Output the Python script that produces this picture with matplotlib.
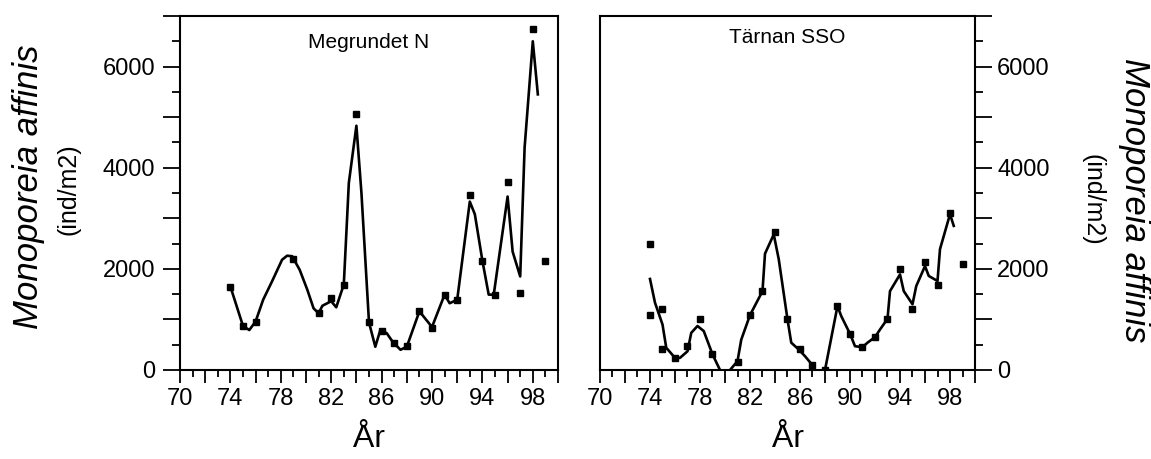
import matplotlib
matplotlib.use("Agg")
import matplotlib.pyplot as plt
from matplotlib.ticker import MultipleLocator, FuncFormatter

plt.rcParams["font.family"] = ["Liberation Sans", "DejaVu Sans"]

# Megrundet N: yearly samples and smoothed curve
left_years = [74, 75, 76, 79, 81, 82, 83, 84, 85, 86, 87, 88, 89, 90, 91, 92, 93, 94, 95, 96, 97, 98, 99]
left_vals = [1650, 870, 940, 2200, 1120, 1420, 1690, 5060, 940, 780, 540, 470, 1160, 840, 1490, 1390,
             3470, 2160, 1490, 3720, 1530, 6750, 2150]
left_line_x = [74, 74.5, 75, 75.5, 76, 76.6, 77.3, 78.1, 78.5, 78.9, 79.5, 80.1, 80.6, 81, 81.3, 82, 82.4,
               83, 83.4, 84, 84.4, 85, 85.5, 85.9, 86.4, 86.9, 87.5, 88, 89, 90, 91, 91.4, 92, 93, 93.4,
               94, 94.5, 94.9, 96, 96.4, 97, 97.35, 98, 98.4]
left_line_y = [1650, 1260, 870, 790, 960, 1390, 1750, 2180, 2260, 2250, 1980, 1590, 1220, 1120, 1270, 1360,
               1240, 1690, 3700, 4830, 3500, 940, 460, 790, 730, 550, 400, 460, 1160, 850, 1490, 1320, 1390,
               3330, 3080, 2160, 1490, 1490, 3430, 2340, 1850, 4400, 6500, 5450]

# Tärnan SSO
right_years = [74, 74, 75, 75, 76, 77, 78, 79, 81, 82, 83, 84, 85, 86, 87, 88, 89, 90, 91, 92, 93, 94, 95,
               96, 97, 98, 99]
right_vals = [2490, 1085, 1200, 425, 228, 480, 1010, 313, 162, 1085, 1560, 2737, 1010, 425, 95, 0, 1265, 716,
              452, 650, 1013, 2000, 1200, 2140, 1690, 3100, 2090]
right_line_x = [74, 74.4, 75, 75.3, 76, 76.4, 77, 77.3, 77.8, 78.3, 79, 79.6, 80, 80.4, 81, 81.3, 82, 83,
                83.2, 83.9, 84.3, 85, 85.3, 85.9, 86.4, 87, 87.2, 87.6, 88, 89, 89.3, 90, 90.4, 91, 91.4,
                92, 92.4, 93, 93.2, 94, 94.3, 95, 95.3, 96, 96.3, 97, 97.2, 98, 98.3]
right_line_y = [1800, 1330, 900, 440, 240, 240, 370, 735, 870, 770, 310, 0, -150, 0, 175, 600, 1085, 1560,
                2300, 2680, 2190, 1000, 540, 405, 273, 95, 0, -80, 0, 1265, 1066, 716, 470, 452, 540, 650,
                800, 1013, 1560, 1890, 1560, 1300, 1660, 2055, 1860, 1760, 2390, 3080, 2850]

fig = plt.figure(figsize=(11.51, 4.59), dpi=100)
axL = fig.add_axes([180 / 1151, 89 / 459, 378 / 1151, 354 / 459])
axR = fig.add_axes([600 / 1151, 89 / 459, 375 / 1151, 354 / 459])

xfmt = FuncFormatter(lambda v, p: f"{int(round(v))}" if round(v - 70) % 4 == 0 else "")
yfmt = FuncFormatter(lambda v, p: f"{int(round(v))}" if round(v) % 2000 == 0 else "")

for ax, xs, ys, lx, ly, title, ty in [
    (axL, left_years, left_vals, left_line_x, left_line_y, "Megrundet N", 0.925),
    (axR, right_years, right_vals, right_line_x, right_line_y, "Tärnan SSO", 0.94),
]:
    ax.plot(lx, ly, color="black", lw=1.9, zorder=2)
    ax.plot(xs, ys, ls="none", marker="s", ms=4.4, color="black", zorder=3)
    ax.set_xlim(70, 100)
    ax.set_ylim(0, 7000)
    for s in ax.spines.values():
        s.set_linewidth(1.5)
    ax.xaxis.set_major_locator(MultipleLocator(2))
    ax.xaxis.set_minor_locator(MultipleLocator(1))
    ax.xaxis.set_major_formatter(xfmt)
    ax.yaxis.set_major_locator(MultipleLocator(1000))
    ax.yaxis.set_minor_locator(MultipleLocator(500))
    ax.yaxis.set_major_formatter(yfmt)
    ax.tick_params(axis="x", which="major", direction="out", length=9, width=1.3, pad=4, labelsize=17)
    ax.tick_params(axis="x", which="minor", direction="out", length=5, width=1.3)
    ax.tick_params(axis="y", which="major", direction="out", length=12, width=1.3, labelsize=17)
    ax.tick_params(axis="y", which="minor", direction="out", length=6, width=1.3)
    ax.text(0.5, ty, title, transform=ax.transAxes, ha="center", va="center", fontsize=15)
    ax.set_xlabel("År", fontsize=23, labelpad=10)

axL.tick_params(axis="y", which="both", left=True, right=False, pad=6)
axR.yaxis.tick_right()
axR.tick_params(axis="y", which="both", left=False, right=True, pad=4)

# y labels
fig.text(29 / 1151, 1 - 187 / 459, "Monoporeia affinis", rotation=90, style="italic",
         fontsize=25, ha="center", va="center")
fig.text(68 / 1151, 1 - 189 / 459, "(ind/m2)", rotation=90, fontsize=18, ha="center", va="center")
fig.text(1135 / 1151, 1 - 200 / 459, "Monoporeia affinis", rotation=-90, style="italic",
         fontsize=25, ha="center", va="center")
fig.text(1093 / 1151, 1 - 200 / 459, "(ind/m2)", rotation=-90, fontsize=18, ha="center", va="center")

fig.savefig("out.png", dpi=100)
